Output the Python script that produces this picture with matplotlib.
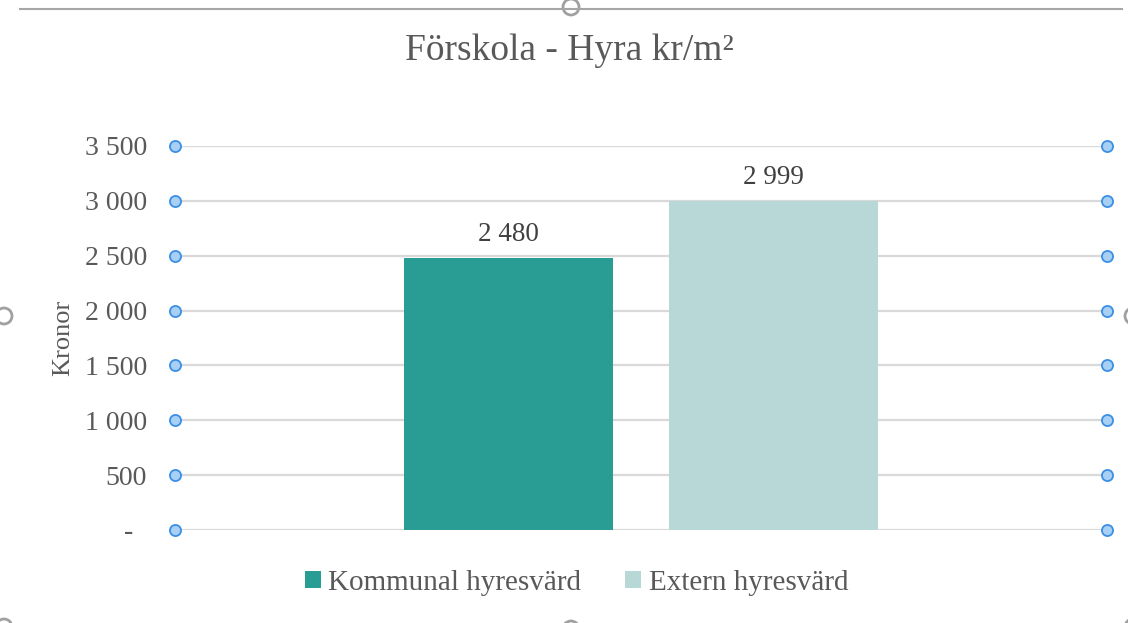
import matplotlib.pyplot as plt
from matplotlib.patches import Circle
from matplotlib.ticker import FuncFormatter

# data
series = ["Kommunal hyresvärd", "Extern hyresvärd"]
values = [2480, 2999]
colors = ["#299d94", "#b7d8d6"]
yticks = [0, 500, 1000, 1500, 2000, 2500, 3000, 3500]

text_col = "#595959"
plt.rcParams['font.family'] = ['Liberation Serif', 'DejaVu Serif']

fig = plt.figure(figsize=(11.28, 6.23), dpi=100)

# overlay for the chart frame / selection handles
bg = fig.add_axes([0, 0, 1, 1], zorder=0)
bg.set_xlim(0, 1128)
bg.set_ylim(623, 0)
bg.axis('off')
bg.plot([20, 1122], [9, 9], color="#a6a6a6", lw=1.5)
for cx, cy in [(571, 7), (4, 316), (1133, 316), (571, 629), (4, 627), (1133, 627)]:
    bg.add_patch(Circle((cx, cy), 8, facecolor="white", edgecolor="#a0a0a0", lw=2, clip_on=False))

ax = fig.add_axes([0.1551, 0.1493, 0.8262, 0.6164], zorder=1)
ax.patch.set_alpha(0)

offsets = [-0.1425, 0.1425]
for name, v, c, off in zip(series, values, colors, offsets):
    ax.bar(off, v, width=0.224, color=c, label=name, zorder=2)
    ax.text(off, v + 100, f"{v:,}".replace(",", " "), ha='center', va='bottom',
            fontsize=19.5, color="#404040")

ax.set_xlim(-0.5, 0.5)
ax.set_ylim(0, 3500)
ax.set_yticks(yticks)
ax.yaxis.set_major_formatter(FuncFormatter(
    lambda y, p: "-  " if y == 0 else f"{int(y):,}".replace(",", " ")))
ax.tick_params(axis='y', length=0, pad=20, labelsize=20, labelcolor=text_col)
ax.set_xticks([])
for s in ax.spines.values():
    s.set_visible(False)
ax.grid(axis='y', color="#d9d9d9", lw=1.6, zorder=0)

# selection handles on gridlines
tr = ax.get_yaxis_transform()
for y in yticks:
    for xx in (0, 1):
        ax.plot(xx, y, 'o', ms=8, mfc="#a8d0f5", mec="#3a8ee6", mew=1.3,
                transform=tr, clip_on=False, zorder=3)

ax.set_ylabel("Kronor", fontsize=19, color=text_col, labelpad=8)
fig.text(0.505, 0.918, "Förskola - Hyra kr/m²", ha='center', va='center',
         fontsize=27, color=text_col)

ax.legend(loc='center', bbox_to_anchor=(0.431, -0.138), ncol=2, frameon=False,
          fontsize=21, handlelength=0.55, handleheight=0.55, handletextpad=0.25,
          columnspacing=1.5, labelcolor=text_col)

fig.savefig("out.png", dpi=100)
